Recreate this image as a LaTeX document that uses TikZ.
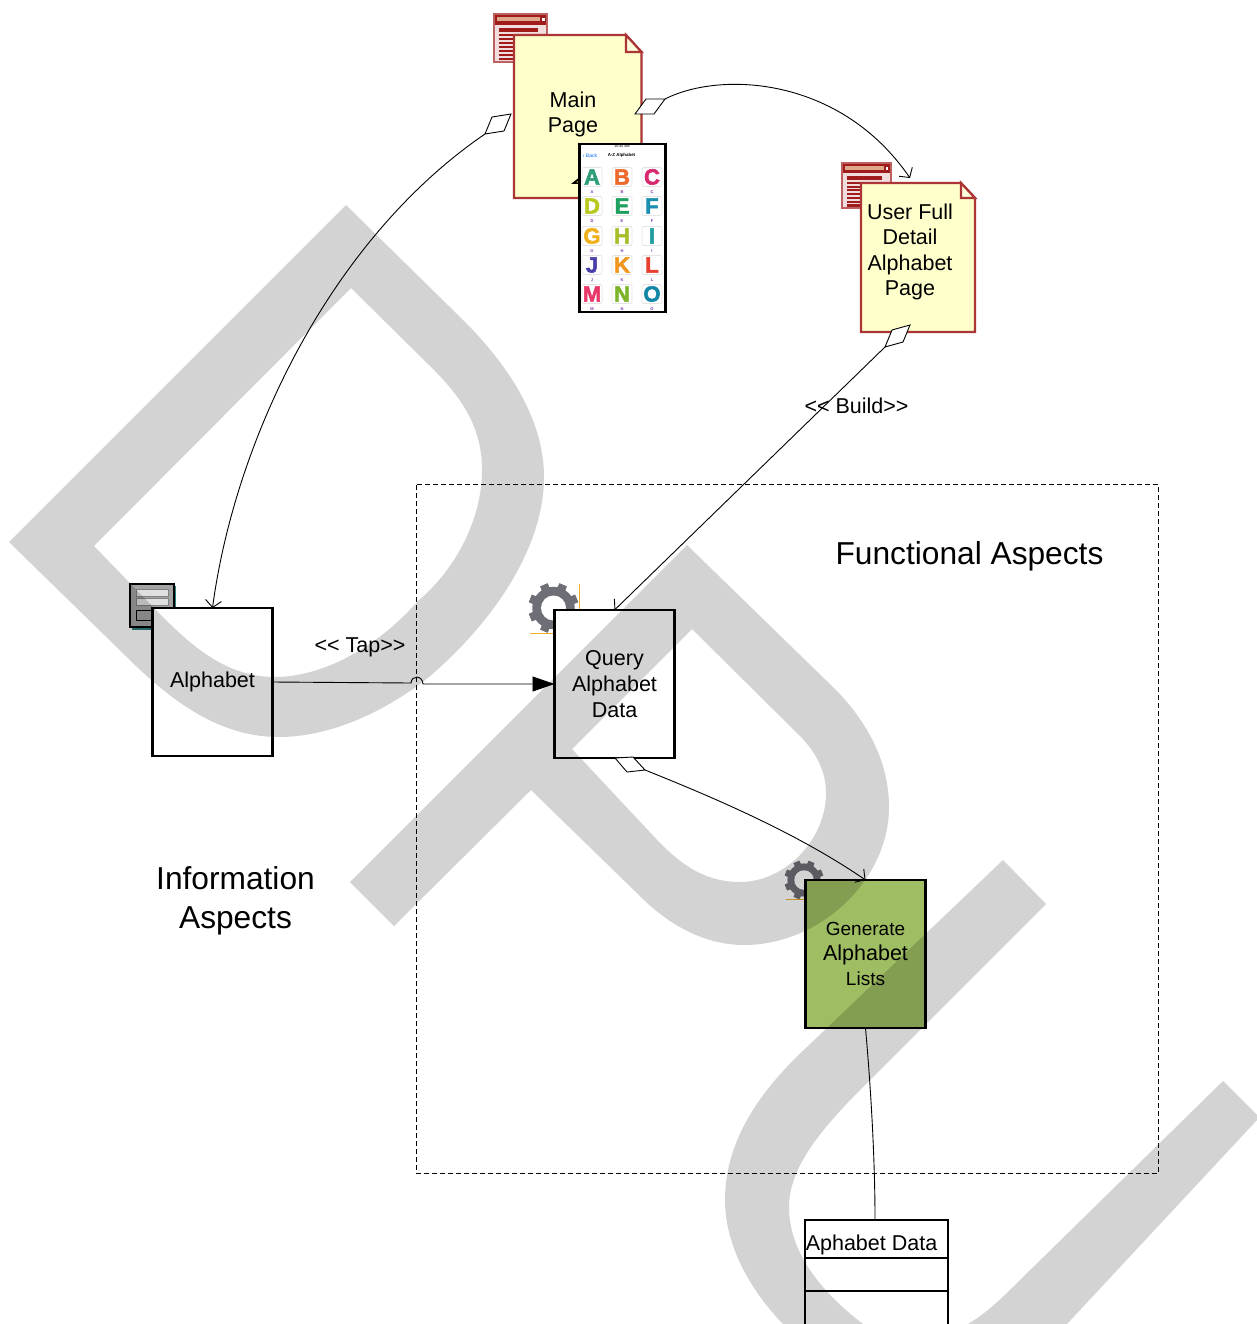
\documentclass[tikz,border=0pt]{standalone}
\usepackage{fontspec}
\setmainfont{Liberation Sans}
\newfontfamily\heavyf[FakeBold=2.5]{Liberation Sans}
\usetikzlibrary{arrows.meta,calc,backgrounds}
\definecolor{wm}{HTML}{D3D3D3}
\definecolor{notefill}{HTML}{FFFFCC}
\definecolor{noteedge}{HTML}{AC3535}
\definecolor{iconred}{HTML}{A01C1C}
\definecolor{icontan}{HTML}{DDA98A}
\definecolor{gearc}{HTML}{6E6E76}
\definecolor{cornerc}{HTML}{EDAF2B}
\definecolor{greenbox}{HTML}{9FBE63}
\definecolor{iconteal}{HTML}{2E7F80}
\definecolor{icongray}{HTML}{A4A4A4}
\definecolor{tile}{HTML}{E4E4E4}
\definecolor{smallp}{HTML}{7B2FB0}
\definecolor{lA}{HTML}{2E9E7A}\definecolor{lB}{HTML}{EE6A2C}\definecolor{lC}{HTML}{D8286E}
\definecolor{lD}{HTML}{B7C81E}\definecolor{lE}{HTML}{1FA060}\definecolor{lF}{HTML}{1A8FB0}
\definecolor{lG}{HTML}{F0B01C}\definecolor{lH}{HTML}{A8BE28}\definecolor{lI}{HTML}{1F9CA0}
\definecolor{lJ}{HTML}{4A3FA8}\definecolor{lK}{HTML}{F0961E}\definecolor{lL}{HTML}{E8402E}
\definecolor{lM}{HTML}{E8386A}\definecolor{lN}{HTML}{7CB52A}\definecolor{lO}{HTML}{1487A8}
\newcommand{\fnt}[1]{\fontsize{#1}{#1}\selectfont}
\tikzset{
  boxnode/.style={draw=black,line width=2.2pt,fill=white,inner sep=0pt,outer sep=0pt,minimum width=120pt,minimum height=148pt,align=center,font=\fontsize{21.5}{25.3}\selectfont},
  conn/.style={line width=0.9pt,draw=black},
  openarrow/.style={-{Straight Barb[length=7pt,width=16pt,line width=0.9pt]}},
  diamondmark/.style={draw=black,line width=0.9pt,fill=white,line join=miter},
  notepath/.style={draw=noteedge,line width=2.2pt,fill=notefill},
  lbl/.style={inner sep=0pt,font=\fontsize{21.5}{25.5}\selectfont,align=center},
  biglbl/.style={inner sep=0pt,font=\fontsize{31.7}{38.5}\selectfont,align=center},
  phonetile/.style={draw=tile,line width=0.7pt,rounded corners=2pt,fill=white,minimum width=20pt,minimum height=19pt,inner sep=0pt},
  wmfill/.style={fill=wm,even odd rule}
}
\newcommand{\gearicon}[3]{%
  \begin{scope}[shift={(#1,#2)}]
    \foreach \a in {0,45,...,315}{\fill[gearc,rotate=\a+22.5] (-.16*#3,-1.0*#3) rectangle (.16*#3,1.0*#3);}
    \fill[gearc] (0,0) circle[radius=.85*#3];
    \fill[white] (0,0) circle[radius=.50*#3];
  \end{scope}}
\newcommand{\pageicon}[1]{%
  \begin{scope}[#1]
    \fill[white] (0,0) rectangle (53,48);
    \draw[iconred!70!white,line width=1.8pt] (0,0) rectangle (53,48);
    \fill[iconred] (1,1) rectangle (52,11);
    \fill[icontan] (3,3) rectangle (46,7);
    \fill[white] (47.5,4) rectangle (50.5,7);
    \fill[white!85!iconred] (1,11) rectangle (52,47);
    \fill[iconred] (5,14) rectangle (44,18);
    \foreach \yy in {20,24,28,32,36,40,44}{\fill[iconred] (5,\yy) rectangle (48,\yy+2.3);}
  \end{scope}}
\begin{document}
\begin{tikzpicture}[x=1pt,y=-1pt]
\useasboundingbox (0,0) rectangle (1257,1324);
\clip (0,0) rectangle (1257,1324);
\fill[white] (0,0) rectangle (1257,1324);

% dashed frame
\draw[black,line width=0.9pt,dash pattern=on 5pt off 3pt] (416.5,484.5) rectangle (1158,1173.5);

% icons behind the boxes
\pageicon{shift={(494,14)}}
\pageicon{shift={(842,163)},yscale=0.94,xscale=0.92}
% form icon
\fill[iconteal] (132,586) rectangle (176,630);
\fill[icongray,draw=black,line width=1.8pt] (130,584) rectangle (174,627);
\fill[white!88!black,draw=gray,line width=.8pt] (136,589) rectangle (168,596);
\fill[white!88!black,draw=gray,line width=.8pt] (136,598) rectangle (168,605);
\fill[icongray,draw=black,line width=1pt] (136,610) rectangle (168,620);
% gears
\gearicon{553.5}{608}{25}
\draw[cornerc,line width=0.8pt] (530,633) -- (556,633) (579,584) -- (579,611);
\gearicon{804}{880}{19.5}
\draw[cornerc,line width=0.8pt] (786,899) -- (807,899);

% notes
\draw[notepath] (514,35) -- (626,35) -- (641.5,52) -- (641.5,198) -- (514,198) -- cycle;
\draw[notepath,fill=notefill!70!white] (626,35) -- (626,52) -- (641.5,52) -- cycle;
\node[lbl] (mainpage) at (573,114.5) {Main\\Page};
\fill[black] (571,184) -- (581,176) -- (581,184) -- cycle;
\fill[yellow!90!black] (576,182.5) -- (581,178.5) -- (581,182.5) -- cycle;

\draw[notepath] (861,183) -- (961,183) -- (975,198) -- (975,332) -- (861,332) -- cycle;
\draw[notepath,fill=notefill!70!white] (961,183) -- (961,198) -- (975,198) -- cycle;
\node[lbl] (userpage) at (910,252) {User Full\\Detail\\Alphabet\\Page};

% phone screenshot
\node[draw=black,line width=2.2pt,fill=white,inner sep=0pt,minimum width=86pt,minimum height=168pt] (phone) at (622.5,228) {};
\node[inner sep=0pt,font=\fnt{3.6}] (status) at (622,146.5) {10:45 AM};
\node[inner sep=0pt,font=\fnt{5},text=blue!60!cyan] (back) at (590,155.5) {‹ Back};
\node[inner sep=0pt,font=\bfseries\fnt{4.4}] (ptitle) at (621.5,155.5) {A-Z Alphabet};
\foreach \ch/\cx/\cy in {A/592/177,B/622/177,C/652/177,D/592/206,E/622/206,F/652/206,G/592/236,H/622/236,I/652/236,J/592/265,K/622/265,L/652/265,M/592/294,N/622/294,O/652/294}{
  \node[phonetile] (tile\ch) at (\cx,\cy) {};
  \node[inner sep=0pt,font=\heavyf\bfseries\fnt{22},text=l\ch] (let\ch) at (\cx,\cy) {\ch};
  \node[inner sep=0pt,font=\bfseries\fnt{4},text=smallp] (cap\ch) at (\cx,\cy+15.5) {\ch};
}

% boxes
\node[boxnode] (alphabet) at (212.5,682) {\raisebox{-2pt}{Alphabet}};
\node[boxnode] (query) at (614.5,684) {\raisebox{1pt}{Query}\\Alphabet\\Data};
\node[boxnode,fill=greenbox] (generate) at (865.5,954) {\fontsize{19}{24}\selectfont Generate\\\fontsize{21.5}{24}\selectfont Alphabet\\\fontsize{19}{22}\selectfont Lists};
\node[draw=black,line width=2.2pt,fill=white,inner sep=0pt,minimum width=143pt,minimum height=130pt,anchor=north west] (data) at (803.5,1218.5) {};
\draw[black,line width=2.2pt] (803.5,1258) -- (946.5,1258) (803.5,1291) -- (946.5,1291);
\node[lbl] (datatitle) at (871.5,1244.5) {Aphabet Data};

% labels
\node[lbl] (taplbl) at (360,647) {<{}< Tap>{}>};
\node[lbl] (buildlbl) at (856.5,406) {<{}< Build>{}>};
\node[biglbl] (funclbl) at (969.5,556) {Functional Aspects};
\node[biglbl] (infolbl) at (235.5,901) {Information\\Aspects};

% connectors
\coordinate (d1a) at (511,114); \coordinate (d1b) at (492,117); \coordinate (d1c) at (485,134); \coordinate (d1d) at (504,131);
\draw[conn,openarrow] (d1c) .. controls (330,240) and (235,440) .. (alphabet.north);
\draw[diamondmark] (d1a) -- (d1b) -- (d1c) -- (d1d) -- cycle;

\coordinate (d2a) at (635,114); \coordinate (d2b) at (646,99); \coordinate (d2c) at (665,99); \coordinate (d2d) at (654,114);
\coordinate (usertip) at (910,178);
\draw[conn,openarrow] (d2c) .. controls (720,71) and (840,76) .. (usertip);
\draw[diamondmark] (d2a) -- (d2b) -- (d2c) -- (d2d) -- cycle;

\coordinate (d3a) at (910,325); \coordinate (d3b) at (892,330); \coordinate (d3c) at (885,347); \coordinate (d3d) at (903,342);
\draw[conn,openarrow] (d3c) -- (query.north);
\draw[diamondmark] (d3a) -- (d3b) -- (d3c) -- (d3d) -- cycle;

\coordinate (d4a) at (615,758); \coordinate (d4b) at (633,757); \coordinate (d4c) at (645,770); \coordinate (d4d) at (627,772);
\draw[conn,openarrow] (d4c) .. controls (720,800) and (800,835) .. (generate.north);
\draw[diamondmark] (d4a) -- (d4b) -- (d4c) -- (d4d) -- cycle;

\coordinate (hopa) at (411,683); \coordinate (hopb) at (423,684);
\draw[conn,-{Triangle[length=22pt,width=15pt]}] (alphabet.east) -- (hopa) .. controls (411.5,675) and (422.5,675) .. (hopb) -- (query.west);
\draw[conn] (generate.south) .. controls (871,1090) and (875,1160) .. (875,1219);

% watermark
\begin{scope}[blend mode=multiply]
\fill[wmfill]
  (9,542) -- (346,205) -- (464,321) .. controls (515,372) and (544,425) .. (544,477)
  .. controls (544,550) and (490,625) .. (429,677) .. controls (385,712) and (330,737) .. (279,737)
  .. controls (225,737) and (180,708) .. (136,666) -- cycle
  (351,288) -- (429,365) .. controls (465,400) and (482,430) .. (482,470)
  .. controls (482,520) and (455,570) .. (418,601) .. controls (375,650) and (320,677) .. (275,677)
  .. controls (225,677) and (190,645) .. (154,608) -- (94,546) -- cycle;
\fill[wmfill]
  (350,882) -- (687,545) -- (836,690) .. controls (870,725) and (889,765) .. (889,807)
  .. controls (889,880) and (820,945) .. (744,945) .. controls (705,945) and (670,925) .. (644,900)
  -- (531,790) -- (394,926) -- cycle
  (692,629) -- (801,737) .. controls (818,755) and (826,773) .. (826,793)
  .. controls (826,840) and (785,882) .. (740,882) .. controls (708,882) and (685,868) .. (660,843)
  -- (572,749) -- cycle;
\fill[wm]
  (1003,860) -- (807,1047) .. controls (755,1095) and (725,1145) .. (725,1200)
  .. controls (725,1245) and (750,1290) .. (783,1324) -- (863,1324)
  .. controls (825,1295) and (789,1255) .. (789,1207)
  .. controls (789,1165) and (825,1125) .. (867,1083) -- (1046,904) -- cycle;
\fill[wm]
  (1223,1081) -- (1020,1280) .. controls (1003,1297) and (988,1312) .. (968,1324)
  -- (1067,1324) -- (1257,1120) -- (1257,1115) -- cycle;
\end{scope}
\end{tikzpicture}
\end{document}
